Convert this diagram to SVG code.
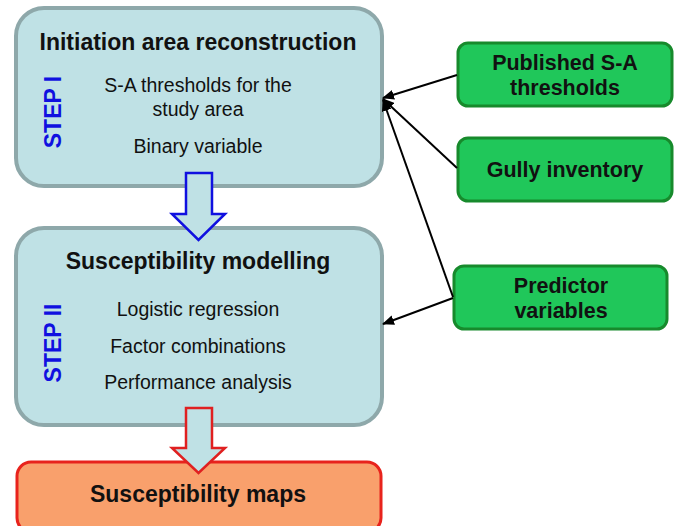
<svg xmlns="http://www.w3.org/2000/svg" width="679" height="526" viewBox="0 0 679 526">
<style>
.step{fill:#bfe1e5;stroke:#8ea8aa;stroke-width:4}
.green{fill:#20c75a;stroke:#178a2c;stroke-width:3}
.orange{fill:#f9a06c;stroke:#e8231c;stroke-width:3}
.title{font-family:"Liberation Sans",Arial,sans-serif;font-weight:bold;font-size:23px;fill:#111;text-anchor:middle}
.item{font-family:"Liberation Sans",Arial,sans-serif;font-size:19.5px;fill:#111;text-anchor:middle}
.gtext{font-family:"Liberation Sans",Arial,sans-serif;font-weight:bold;font-size:21.5px;fill:#111;text-anchor:middle}
.steplbl{font-family:"Liberation Sans",Arial,sans-serif;font-weight:bold;font-size:23px;fill:#1010e0;text-anchor:middle}
.conn{stroke:#000;stroke-width:2;fill:none;marker-end:url(#ah)}
</style>
<defs>
<marker id="ah" markerWidth="12" markerHeight="10" refX="11" refY="5" orient="auto" markerUnits="userSpaceOnUse">
<path d="M0,0 L12,5 L0,10 z" fill="#000"/>
</marker>
</defs>
<rect width="679" height="526" fill="#fff"/>
<g id="step1">
<rect class="step" x="16" y="8" width="366" height="178" rx="28"/>
<text class="title" x="198" y="50">Initiation area reconstruction</text>
<text class="steplbl" transform="translate(61,112) rotate(-90)">STEP I</text>
<text class="item" x="198" y="92">S-A thresholds for the</text>
<text class="item" x="198" y="116">study area</text>
<text class="item" x="198" y="153">Binary variable</text>
</g>
<g id="step2">
<rect class="step" x="16" y="228" width="366" height="197" rx="28"/>
<text class="title" x="198" y="269">Susceptibility modelling</text>
<text class="steplbl" transform="translate(61,343) rotate(-90)">STEP II</text>
<text class="item" x="198" y="316">Logistic regression</text>
<text class="item" x="198" y="353">Factor combinations</text>
<text class="item" x="198" y="389">Performance analysis</text>
</g>
<g id="maps">
<rect class="orange" x="17" y="462" width="364" height="70" rx="14"/>
<text class="title" x="198" y="502">Susceptibility maps</text>
</g>
<g id="published">
<rect class="green" x="458" y="43" width="214" height="63" rx="10"/>
<text class="gtext" x="565" y="70">Published S-A</text>
<text class="gtext" x="565" y="95">thresholds</text>
</g>
<g id="gully">
<rect class="green" x="458" y="138" width="214" height="63" rx="10"/>
<text class="gtext" x="565" y="177">Gully inventory</text>
</g>
<g id="predictor">
<rect class="green" x="454" y="266" width="213" height="63" rx="10"/>
<text class="gtext" x="561" y="293">Predictor</text>
<text class="gtext" x="561" y="318">variables</text>
</g>
<g id="connectors">
<path d="M186,173 H212 V214 H225 L198.5,240 L172,214 H186 Z" fill="#bfe1e5" stroke="#1010e0" stroke-width="2.5"/>
<path d="M186,408 H212 V448 H225 L198.5,473 L172,448 H186 Z" fill="#bfe1e5" stroke="#e02020" stroke-width="2.5"/>
<line class="conn" x1="457" y1="75" x2="383" y2="98"/>
<line class="conn" x1="457" y1="168" x2="383" y2="99"/>
<line class="conn" x1="453" y1="297" x2="383" y2="100"/>
<line class="conn" x1="453" y1="298" x2="383" y2="324"/>
</g>
</svg>
